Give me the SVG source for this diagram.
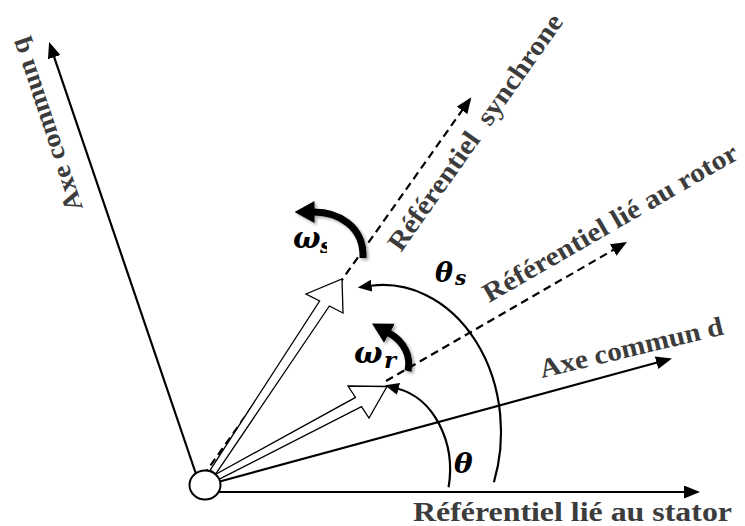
<svg xmlns="http://www.w3.org/2000/svg" width="745" height="526" viewBox="0 0 745 526">
<style>
.ax{fill:none;stroke:#000;stroke-width:2.2}
.dash{fill:none;stroke:#000;stroke-width:2.2;stroke-dasharray:8 5}
.arc{fill:none;stroke:#000;stroke-width:2.2}
.om{fill:none;stroke:#000;stroke-width:7}
.hollow{fill:#fff;stroke:#000;stroke-width:1.3;stroke-linejoin:miter}
.lbl{font-family:"Liberation Serif","Times New Roman",serif;font-weight:bold;font-size:27px;fill:#3c3c3c}
.math{font-family:"DejaVu Serif","Liberation Serif",serif;font-weight:bold;font-style:italic;fill:#000}
</style>
<defs>
<marker id="ah" markerUnits="userSpaceOnUse" markerWidth="16" markerHeight="13" refX="13" refY="6.5" orient="auto" viewBox="0 0 16 13">
<path d="M0,0 L16,6.5 L0,13 z" fill="#000"/>
</marker>
<marker id="ahb" markerUnits="userSpaceOnUse" markerWidth="14" markerHeight="12" refX="0.5" refY="6" orient="auto" viewBox="0 0 14 12">
<path d="M0,0 L14,6 L0,12 z" fill="#000"/>
</marker>
<marker id="ahw" markerUnits="userSpaceOnUse" markerWidth="20" markerHeight="22" refX="0.5" refY="11" orient="auto" viewBox="0 0 20 22">
<path d="M0,0 L20,11 L0,22 z" fill="#000"/>
</marker>
<filter id="sh" x="-30%" y="-30%" width="160%" height="160%">
<feDropShadow dx="2" dy="2" stdDeviation="1.5" flood-color="#000" flood-opacity="0.35"/>
</filter>
<clipPath id="clipws"><rect x="280" y="220" width="47" height="40"/></clipPath>
</defs>

<g id="connectors">
  <line id="axis-stator" class="ax" x1="218" y1="492" x2="697" y2="492" marker-end="url(#ah)"/>
  <line id="axis-d" class="ax" x1="218" y1="482" x2="669.1" y2="359.3" marker-end="url(#ah)"/>
  <line id="axis-q" class="ax" x1="196" y1="474" x2="50" y2="44.8" marker-end="url(#ah)"/>
  <line id="ref-sync" class="dash" x1="203" y1="476" x2="469.6" y2="99.8" marker-end="url(#ah)"/>
  <line id="ref-rotor" class="dash" x1="386" y1="381" x2="624.4" y2="243.5" marker-end="url(#ah)"/>
  <path id="arc-theta" class="arc" d="M448.6,487.3 A65,83 0 0 0 398,388.7" marker-end="url(#ahb)"/>
  <path id="arc-theta-s" class="arc" d="M493.9,482.3 A118,147 0 0 0 371.1,285.75" marker-end="url(#ahb)"/>
  <polygon id="vec-sync" class="hollow" points="342,279 343,313 329.4,306 215.8,473.9 210.2,470.1 319.6,301 306,294"/>
  <polygon id="vec-rotor" class="hollow" points="387,386.5 369,418 361.5,406.6 216.4,480.6 213.6,475.4 355.5,397.4 348,386"/>
  <g filter="url(#sh)">
    <path id="omega-s-arrow" class="om" d="M363,258 C364,226 338,212 314,212" marker-end="url(#ahw)"/>
    <path id="omega-r-arrow" class="om" d="M408,371 C411,357 405,342 389,333" marker-end="url(#ahw)"/>
  </g>
</g>

<g id="origin">
  <ellipse cx="205" cy="485" rx="15.5" ry="14.5" fill="#fff" stroke="#000" stroke-width="2"/>
</g>

<g id="label-q"><text class="lbl" x="83" y="208" transform="rotate(-108.5 83 208)" style="font-size:26px" textLength="181" lengthAdjust="spacingAndGlyphs">Axe commun q</text></g>
<g id="label-sync"><text class="lbl" x="401" y="253" transform="rotate(-54.8 401 253)" textLength="283" lengthAdjust="spacingAndGlyphs" xml:space="preserve">Référentiel  synchrone</text></g>
<g id="label-rotor"><text class="lbl" x="489" y="303" transform="rotate(-30 489 303)" textLength="290" lengthAdjust="spacingAndGlyphs">Référentiel lié au rotor</text></g>
<g id="label-d"><text class="lbl" x="542" y="378" transform="rotate(-13.5 542 378)" textLength="188" lengthAdjust="spacingAndGlyphs">Axe commun d</text></g>
<g id="label-stator"><text class="lbl" x="413" y="521" style="font-size:28px" textLength="319" lengthAdjust="spacingAndGlyphs">Référentiel lié au stator</text></g>

<g id="label-theta"><text class="math" x="454" y="473" font-size="28">θ</text></g>
<g id="label-theta-s"><text class="math" x="435" y="281.5" font-size="27">θ<tspan x="455" y="285" font-size="20">s</tspan></text></g>
<g id="label-omega-r"><text class="math" x="354" y="363" font-size="30">ω<tspan x="384" y="368" font-size="23">r</tspan></text></g>
<g id="label-omega-s"><text class="math" x="293" y="248" font-size="29" clip-path="url(#clipws)">ω<tspan x="320" y="253" font-size="21">s</tspan></text></g>
</svg>
